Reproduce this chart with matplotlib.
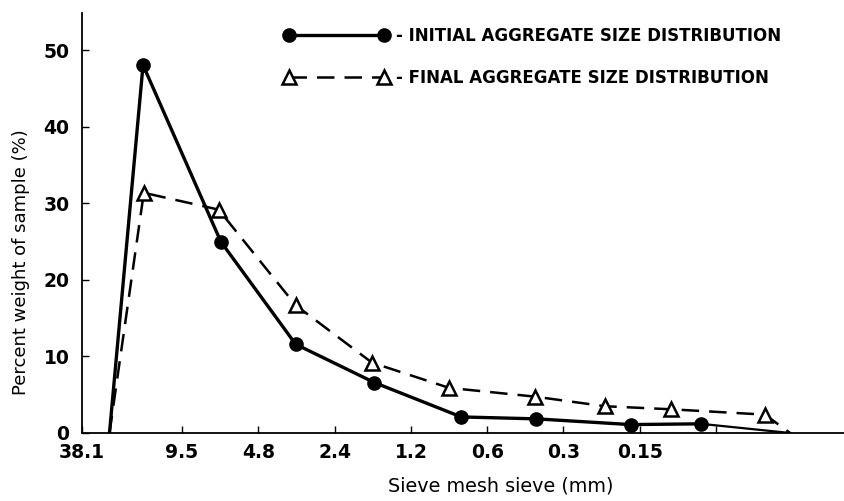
import matplotlib
matplotlib.use("Agg")
import matplotlib.pyplot as plt
from matplotlib.lines import Line2D

plt.rcParams['font.family'] = ['DejaVu Sans']

# Tick positions/labels along the sieve axis
tick_pos = [-0.31, 1, 2, 3, 4, 5, 6, 7, 8]
tick_labels = ["38.1", "9.5", "4.8", "2.4", "1.2", "0.6", "0.3", "0.15", ""]

# Initial aggregate size distribution
init_x = [0.05, 0.49, 1.51, 2.49, 3.52, 4.66, 5.64, 6.88, 7.80, 8.97]
init_y = [0.0, 48.1, 25.0, 11.6, 6.6, 2.1, 1.85, 1.1, 1.2, 0.0]

# Final aggregate size distribution
final_x = [0.05, 0.50, 1.48, 2.49, 3.49, 4.50, 5.63, 6.54, 7.41, 8.64, 8.97]
final_y = [0.0, 31.4, 29.2, 16.7, 9.2, 5.9, 4.75, 3.5, 3.1, 2.4, 0.0]

y_ticks = [0, 10, 20, 30, 40, 50]

fig = plt.figure(figsize=(8.44, 5.01), dpi=100)
ax = fig.add_axes([82/844, 1-433/501, 1-82/844, (433-13)/501])

ax.plot(init_x[:-1], init_y[:-1], color='black', lw=2.4, marker='o',
        markersize=9.5, markevery=list(range(1, len(init_x)-1)), solid_joinstyle='round')
ax.plot(init_x[-2:], init_y[-2:], color='black', lw=1.6)
ax.plot(final_x, final_y, color='black', lw=1.8, dashes=(7, 4), marker='^',
        markersize=10, markerfacecolor='white', markeredgewidth=1.8,
        markevery=list(range(1, len(final_x)-1)))

ax.set_xlim(-0.31, 9.676)
ax.set_ylim(0, 54.9)
ax.set_xticks(tick_pos)
ax.set_xticklabels(tick_labels)
ax.set_yticks(y_ticks)
ax.spines['top'].set_visible(False)
ax.spines['right'].set_visible(False)
for s in ('left', 'bottom'):
    ax.spines[s].set_linewidth(1.3)
ax.tick_params(axis='both', direction='in', length=5, width=1.0, labelsize=13.5)
ax.tick_params(axis='x', pad=7)
ax.tick_params(axis='y', pad=9)
for lab in ax.get_xticklabels() + ax.get_yticklabels():
    lab.set_fontweight('bold')

ax.set_xlabel("Sieve mesh sieve (mm)", fontsize=13.8)
ax.set_ylabel("Percent weight of sample (%)", fontsize=13)
ax.xaxis.set_label_coords((501-82)/762, -(477-433)/420)
ax.yaxis.set_label_coords(-(82-30)/762, (433-262)/420)

handles = [
    Line2D([], [], color='black', lw=2.4, marker='o', markersize=9.5),
    Line2D([], [], color='black', lw=1.8, dashes=(7, 4), marker='^', markersize=10,
           markerfacecolor='white', markeredgewidth=1.8),
]
labels = ["- INITIAL AGGREGATE SIZE DISTRIBUTION", "- FINAL AGGREGATE SIZE DISTRIBUTION"]
leg = ax.legend(handles, labels, loc='upper left', bbox_to_anchor=(284/844, 1-27/501),
                bbox_transform=fig.transFigure, frameon=False, numpoints=2,
                handlelength=6.3, handletextpad=0.45, labelspacing=1.45, borderpad=0,
                borderaxespad=0, prop={'size': 12, 'weight': 'bold'})

fig.savefig("out.png", dpi=100)
